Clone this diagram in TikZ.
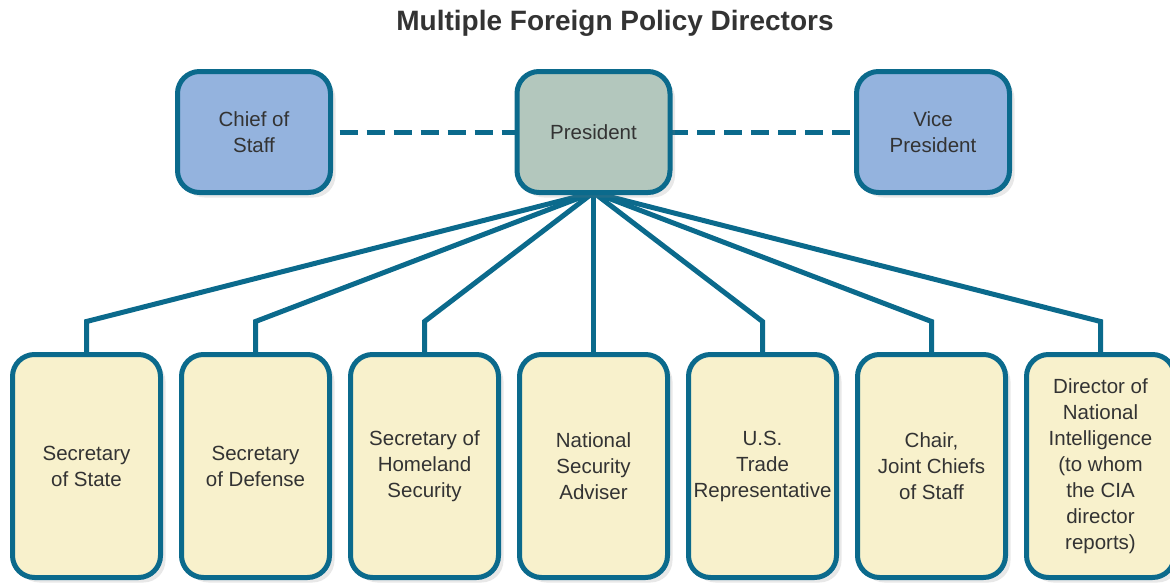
\documentclass[tikz,border=0pt]{standalone}
\usepackage{fontspec}
\setmainfont{Liberation Sans}
\usetikzlibrary{positioning,shadows,backgrounds}
\definecolor{orgline}{HTML}{0B6A8C}
\definecolor{orgblue}{HTML}{94B3DE}
\definecolor{orggreen}{HTML}{B3C7BD}
\definecolor{orgyellow}{HTML}{F8F1CC}
\definecolor{orgtext}{HTML}{333333}
\tikzset{
  topbox/.style={
    draw=orgline,
    line width=5pt,
    rounded corners=22pt,
    minimum width=153pt,
    minimum height=121pt,
    outer sep=0pt,
    align=center,
    text=orgtext,
    font=\fontsize{20.5}{26}\selectfont,
    drop shadow={opacity=0.18, shadow xshift=5pt, shadow yshift=-5pt}
  },
  officebox/.style={
    draw=orgline,
    line width=5pt,
    rounded corners=22pt,
    fill=orgyellow,
    minimum width=148pt,
    minimum height=223pt,
    outer sep=0pt,
    align=center,
    text=orgtext,
    font=\fontsize{20.5}{26}\selectfont,
    drop shadow={opacity=0.18, shadow xshift=5pt, shadow yshift=-5pt}
  },
  title/.style={
    font=\fontsize{28}{32}\selectfont\bfseries,
    text=orgtext
  },
  link/.style={
    draw=orgline,
    line width=5pt
  },
  dashlink/.style={
    draw=orgline,
    line width=5pt,
    dash pattern=on 18pt off 9pt
  }
}

\begin{document}
\begin{tikzpicture}[x=1pt, y=-1pt]

\useasboundingbox (0,0) rectangle (1170,582);
\clip (0,0) rectangle (1170,582);

\node[title] (title) at (615,23) {Multiple Foreign Policy Directors};

\node[topbox, fill=orggreen] (pres) at (593.5,132) {President};
\node[topbox, fill=orgblue, left=186.5pt of pres] (chief) {Chief of\\Staff};
\node[topbox, fill=orgblue, right=186.5pt of pres] (vp) {Vice\\President};

\node[officebox] (state) at (86.5,466) {Secretary\\of State};
\node[officebox, right=21pt of state] (defense) {Secretary\\of Defense};
\node[officebox, right=21pt of defense] (homeland) {Secretary of\\Homeland\\Security};
\node[officebox, right=21pt of homeland] (nsa) {National\\Security\\Adviser};
\node[officebox, right=21pt of nsa] (trade) {U.S.\\Trade\\Representative};
\node[officebox, right=21pt of trade] (jcs) {Chair,\\Joint Chiefs\\of Staff};
\node[officebox, right=21pt of jcs] (dni) {Director of\\National\\Intelligence\\(to whom\\the CIA\\director\\reports)};

\begin{scope}[on background layer]
\draw[dashlink] ([xshift=9pt]chief.east) -- (pres.west);
\draw[dashlink] (pres.east) -- ([xshift=-6pt]vp.west);
\foreach \office in {state,defense,homeland,trade,jcs,dni}
  \draw[link] (pres.south) -- ([yshift=33pt]\office.north) -- (\office.north);
\draw[link] (pres.south) -- (nsa.north);
\end{scope}

\end{tikzpicture}
\end{document}
